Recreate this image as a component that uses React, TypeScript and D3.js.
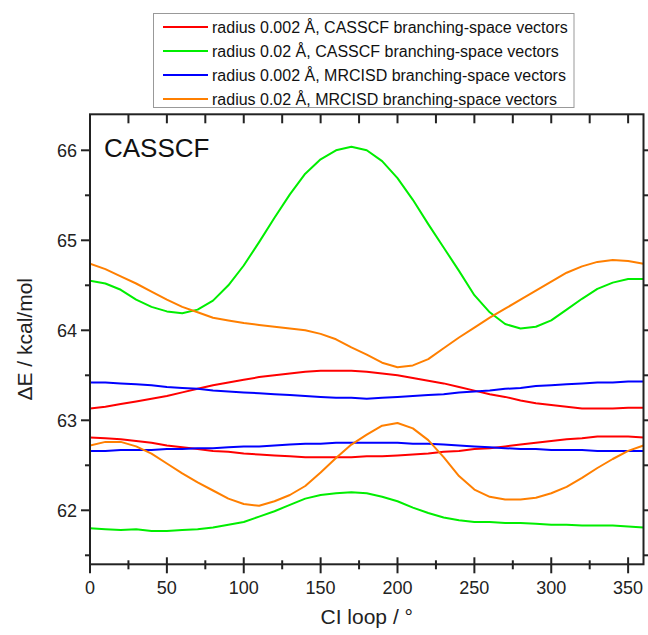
import React from "react";
import * as d3 from "d3";

const angles = [0, 10, 20, 30, 40, 50, 60, 70, 80, 90, 100, 110, 120, 130, 140, 150, 160, 170, 180, 190, 200, 210, 220, 230, 240, 250, 260, 270, 280, 290, 300, 310, 320, 330, 340, 350, 360];

// radius 0.002 Å, CASSCF branching-space vectors (red)
const redUpper = [63.13, 63.15, 63.18, 63.21, 63.24, 63.27, 63.31, 63.35, 63.39, 63.42, 63.45, 63.48, 63.5, 63.52, 63.54, 63.55, 63.55, 63.55, 63.54, 63.52, 63.5, 63.47, 63.44, 63.41, 63.37, 63.33, 63.29, 63.26, 63.22, 63.19, 63.17, 63.15, 63.13, 63.13, 63.13, 63.14, 63.14];
const redLower = [62.81, 62.8, 62.79, 62.77, 62.75, 62.72, 62.7, 62.68, 62.66, 62.65, 62.63, 62.62, 62.61, 62.6, 62.59, 62.59, 62.59, 62.59, 62.6, 62.6, 62.61, 62.62, 62.63, 62.65, 62.66, 62.68, 62.69, 62.71, 62.73, 62.75, 62.77, 62.79, 62.8, 62.82, 62.82, 62.82, 62.81];

// radius 0.02 Å, CASSCF branching-space vectors (green)
const greenUpper = [64.55, 64.52, 64.45, 64.34, 64.26, 64.21, 64.19, 64.23, 64.33, 64.5, 64.72, 64.98, 65.25, 65.51, 65.74, 65.9, 66.0, 66.04, 66.0, 65.88, 65.69, 65.45, 65.18, 64.92, 64.66, 64.39, 64.2, 64.07, 64.02, 64.04, 64.11, 64.23, 64.35, 64.46, 64.53, 64.57, 64.57];
const greenLower = [61.8, 61.79, 61.78, 61.79, 61.77, 61.77, 61.78, 61.79, 61.81, 61.84, 61.87, 61.93, 61.99, 62.06, 62.13, 62.17, 62.19, 62.2, 62.19, 62.15, 62.1, 62.03, 61.97, 61.92, 61.89, 61.87, 61.87, 61.86, 61.86, 61.85, 61.84, 61.84, 61.83, 61.83, 61.83, 61.82, 61.81];

// radius 0.002 Å, MRCISD branching-space vectors (blue)
const blueUpper = [63.42, 63.42, 63.41, 63.4, 63.39, 63.37, 63.36, 63.35, 63.33, 63.32, 63.31, 63.3, 63.29, 63.28, 63.27, 63.26, 63.25, 63.25, 63.24, 63.25, 63.26, 63.27, 63.28, 63.29, 63.31, 63.32, 63.33, 63.35, 63.36, 63.38, 63.39, 63.4, 63.41, 63.42, 63.42, 63.43, 63.43];
const blueLower = [62.66, 62.66, 62.67, 62.67, 62.67, 62.68, 62.68, 62.69, 62.69, 62.7, 62.71, 62.71, 62.72, 62.73, 62.74, 62.74, 62.75, 62.75, 62.75, 62.75, 62.75, 62.74, 62.74, 62.73, 62.72, 62.71, 62.7, 62.69, 62.68, 62.68, 62.67, 62.67, 62.67, 62.66, 62.66, 62.66, 62.66];

// radius 0.02 Å, MRCISD branching-space vectors (orange)
const orangeUpper = [64.74, 64.68, 64.6, 64.52, 64.43, 64.34, 64.26, 64.2, 64.14, 64.11, 64.08, 64.06, 64.04, 64.02, 64.0, 63.96, 63.9, 63.81, 63.73, 63.64, 63.59, 63.61, 63.68, 63.8, 63.92, 64.03, 64.14, 64.24, 64.34, 64.44, 64.54, 64.64, 64.71, 64.76, 64.78, 64.77, 64.74];
const orangeLower = [62.72, 62.76, 62.76, 62.71, 62.63, 62.52, 62.41, 62.31, 62.22, 62.13, 62.07, 62.05, 62.1, 62.17, 62.27, 62.42, 62.58, 62.73, 62.84, 62.94, 62.97, 62.91, 62.78, 62.59, 62.38, 62.23, 62.15, 62.12, 62.12, 62.14, 62.19, 62.26, 62.36, 62.47, 62.57, 62.66, 62.72];

const seriesLabels = [
  "radius 0.002 Å, CASSCF branching-space vectors",
  "radius 0.02 Å, CASSCF branching-space vectors",
  "radius 0.002 Å, MRCISD branching-space vectors",
  "radius 0.02 Å, MRCISD branching-space vectors",
];
const seriesColors = ["#ff0000", "#00ee00", "#0000ff", "#ff7f00"];
const seriesData = [
  [redUpper, redLower],
  [greenUpper, greenLower],
  [blueUpper, blueLower],
  [orangeUpper, orangeLower],
];

const xMajorTicks = [0, 50, 100, 150, 200, 250, 300, 350];
const xMinorTicks = [25, 75, 125, 175, 225, 275, 325];
const yMajorTicks = [62, 63, 64, 65, 66];
const yMinorTicks = [61.5, 62.5, 63.5, 64.5, 65.5];

const panelLabel = "CASSCF";
const xTitle = "CI loop / °";
const yTitle = "ΔE / kcal/mol";

const W = 648;
const H = 635;
const L = 90;
const R = 643.5;
const T = 114.3;
const B = 564.3;
const FONT = "Arial, 'Liberation Sans', Helvetica, sans-serif";
const AX = "#222";

export default function App() {
  const x = d3.scaleLinear().domain([0, 360]).range([L, R]);
  const y = d3.scaleLinear().domain([61.4, 66.4]).range([B, T]);
  const line = d3
    .line<number>()
    .x((_, i) => x(angles[i]))
    .y((d) => y(d));

  return (
    <svg
      width={W}
      height={H}
      style={{ position: "absolute", left: 0, top: 0, background: "#fff" }}
      fontFamily={FONT}
    >
      <defs>
        <clipPath id="plotclip">
          <rect x={L} y={T} width={R - L} height={B - T} />
        </clipPath>
      </defs>
      <g clipPath="url(#plotclip)">
        {seriesData.map((pair, si) =>
          pair.map((vals, j) => (
            <path
              key={`${si}-${j}`}
              d={line(vals) || ""}
              fill="none"
              stroke={seriesColors[si]}
              strokeWidth={2}
              strokeLinejoin="round"
            />
          ))
        )}
      </g>

      {/* frame */}
      <rect x={L} y={T} width={R - L} height={B - T} fill="none" stroke={AX} strokeWidth={2} />

      {/* left axis */}
      {yMajorTicks.map((v) => (
        <g key={`yl${v}`}>
          <line x1={L - 9} x2={L} y1={y(v)} y2={y(v)} stroke={AX} strokeWidth={2} />
          <text x={L - 13} y={y(v)} dy="0.35em" textAnchor="end" fontSize={18} fill="#222">
            {v}
          </text>
        </g>
      ))}
      {yMinorTicks.map((v) => (
        <line key={`ylm${v}`} x1={L - 5} x2={L} y1={y(v)} y2={y(v)} stroke={AX} strokeWidth={2} />
      ))}

      {/* right axis ticks */}
      {[...yMajorTicks, ...yMinorTicks].map((v) => (
        <line key={`yr${v}`} x1={R} x2={R + 6} y1={y(v)} y2={y(v)} stroke={AX} strokeWidth={2} />
      ))}

      {/* bottom axis */}
      {xMajorTicks.map((v) => (
        <g key={`xb${v}`}>
          <line x1={x(v)} x2={x(v)} y1={B - 7} y2={B + 9} stroke={AX} strokeWidth={2} />
          <text x={x(v)} y={B + 30} textAnchor="middle" fontSize={18} fill="#222">
            {v}
          </text>
        </g>
      ))}
      {xMinorTicks.map((v) => (
        <line key={`xbm${v}`} x1={x(v)} x2={x(v)} y1={B - 4} y2={B + 5} stroke={AX} strokeWidth={2} />
      ))}

      {/* top axis ticks */}
      {[...xMajorTicks, ...xMinorTicks].map((v) => (
        <line key={`xt${v}`} x1={x(v)} x2={x(v)} y1={T} y2={T + 9} stroke={AX} strokeWidth={2} />
      ))}

      {/* axis titles */}
      <text x={(L + R) / 2} y={624} textAnchor="middle" fontSize={21} fill="#222">
        {xTitle}
      </text>
      <text
        transform={`translate(32, ${(T + B) / 2}) rotate(-90)`}
        textAnchor="middle"
        fontSize={21}
        fill="#222"
      >
        {yTitle}
      </text>

      {/* panel label */}
      <text x={104} y={157} fontSize={26} fill="#111">
        {panelLabel}
      </text>

      {/* legend */}
      <rect x={153.5} y={13.5} width={420.5} height={94} fill="#fff" stroke="#999" strokeWidth={1} />
      {seriesLabels.map((lab, i) => (
        <g key={lab} transform={`translate(0, ${27 + i * 24})`}>
          <line x1={163} x2={208} y1={0} y2={0} stroke={seriesColors[i]} strokeWidth={2} />
          <text x={212} y={0} dy="0.35em" fontSize={16} fill="#111">
            {lab}
          </text>
        </g>
      ))}
    </svg>
  );
}
